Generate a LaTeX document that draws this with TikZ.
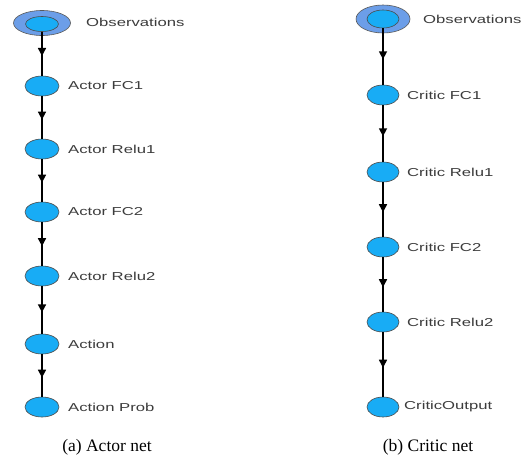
\documentclass[tikz,border=0pt]{standalone}
\usepackage{fontspec}
\setmainfont{Liberation Serif}
\newfontfamily\lblfont{Liberation Sans}
\usetikzlibrary{arrows.meta,decorations.markings,shapes.geometric}
\definecolor{nodeblue}{RGB}{24,172,245}
\definecolor{ringblue}{RGB}{108,158,232}
\definecolor{lblgray}{RGB}{60,60,60}
\begin{document}
\begin{tikzpicture}[x=1pt,y=-1pt,
  lay/.style={ellipse, draw=black!70, line width=0.6pt, fill=nodeblue, minimum width=34pt, minimum height=20pt, inner sep=0pt},
  ringnode/.style={ellipse, draw=black!65, line width=0.6pt, fill=ringblue, inner sep=0pt},
  innernode/.style={ellipse, draw=black!70, line width=0.6pt, fill=nodeblue, inner sep=0pt},
  lbl/.style={anchor=west, inner sep=0pt, font=\lblfont\fontsize{11.5}{12}\selectfont, text=lblgray},
  captext/.style={inner sep=0pt, font=\fontsize{17.5}{20}\selectfont},
  conn/.style={line width=1.6pt, postaction={decorate},
    decoration={markings, mark=at position 0.55 with {\arrow{Triangle[width=8pt,length=8pt]}}}}
]
\useasboundingbox (0,0) rectangle (526,461);
\fill[white] (0,0) rectangle (526,461);

% Actor net
\node[ringnode, minimum width=57pt, minimum height=25pt] (ao) at (42,23) {};
\node[innernode, minimum width=33pt, minimum height=15pt] (aoi) at (42,24) {};
\node[lay] (a1) at (42,86) {};
\node[lay] (a2) at (42,149) {};
\node[lay] (a3) at (42,212) {};
\node[lay] (a4) at (42,276) {};
\node[lay] (a5) at (42,344) {};
\node[lay] (a6) at (42,407) {};

\node[lbl] (lao) at (86,22) {\scalebox{1.45}[1]{Observations}};
\node[lbl] (la1) at (68,86) {\scalebox{1.45}[1]{Actor FC1}};
\node[lbl] (la2) at (68,149) {\scalebox{1.45}[1]{Actor Relu1}};
\node[lbl] (la3) at (68,212) {\scalebox{1.45}[1]{Actor FC2}};
\node[lbl] (la4) at (68,276) {\scalebox{1.45}[1]{Actor Relu2}};
\node[lbl] (la5) at (68,344) {\scalebox{1.45}[1]{Action}};
\node[lbl] (la6) at (68,407) {\scalebox{1.45}[1]{Action Prob}};

\draw[conn] (aoi) -- (a1);
\draw[conn] (a1) -- (a2);
\draw[conn] (a2) -- (a3);
\draw[conn] (a3) -- (a4);
\draw[conn] (a4) -- (a5);
\draw[conn] (a5) -- (a6);

% Critic net
\node[ringnode, minimum width=54pt, minimum height=28pt] (co) at (383,19) {};
\node[innernode, minimum width=32pt, minimum height=18pt] (coi) at (383,19) {};
\node[lay, minimum width=32pt] (c1) at (383,95) {};
\node[lay, minimum width=32pt] (c2) at (383,172) {};
\node[lay, minimum width=32pt] (c3) at (383,247) {};
\node[lay, minimum width=32pt] (c4) at (383,322) {};
\node[lay, minimum width=32pt] (c5) at (383,407) {};

\node[lbl] (lco) at (423,19) {\scalebox{1.45}[1]{Observations}};
\node[lbl] (lc1) at (407,95) {\scalebox{1.45}[1]{Critic FC1}};
\node[lbl] (lc2) at (407,172) {\scalebox{1.45}[1]{Critic Relu1}};
\node[lbl] (lc3) at (407,247) {\scalebox{1.45}[1]{Critic FC2}};
\node[lbl] (lc4) at (407,322) {\scalebox{1.45}[1]{Critic Relu2}};
\node[lbl] (lc5) at (404,407) {\scalebox{1.45}[1]{CriticOutput}};

\draw[conn] (coi) -- (c1);
\draw[conn] (c1) -- (c2);
\draw[conn] (c2) -- (c3);
\draw[conn] (c3) -- (c4);
\draw[conn] (c4) -- (c5);

\node[captext] (capa) at (107,447) {(a) Actor net};
\node[captext] (capb) at (428,447) {(b) Critic net};
\end{tikzpicture}
\end{document}
